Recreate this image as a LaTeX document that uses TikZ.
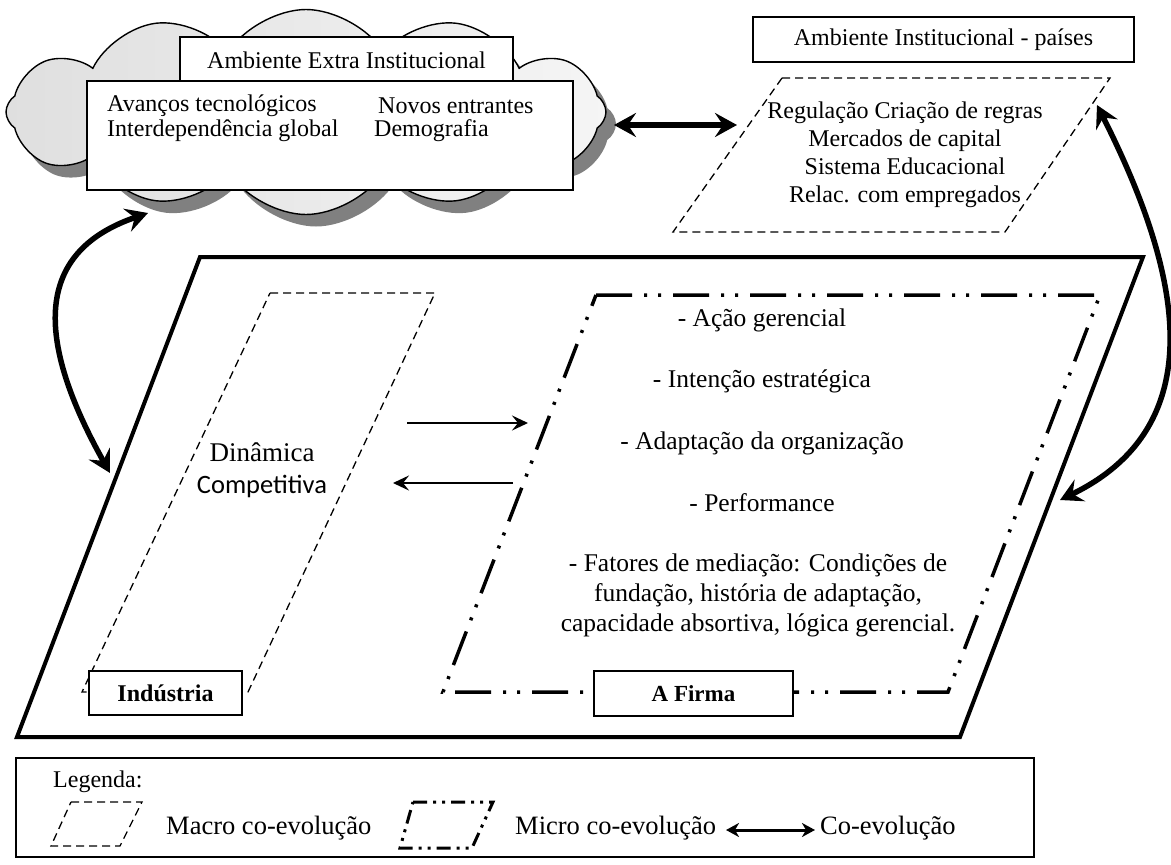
\documentclass[tikz,border=0pt]{standalone}
\usepackage{fontspec}
\setmainfont{Liberation Serif}
\newfontfamily\calfont{Carlito}
\usetikzlibrary{shapes.symbols,arrows.meta}
\begin{document}
\begin{tikzpicture}[x=1pt,y=-1pt,
  fs/.style={font=\fontsize{#1}{#1}\selectfont},
  box/.style={draw, line width=1.5pt, fill=white, inner sep=0pt},
  macro/.style={draw, line width=1.3pt, dash pattern=on 8pt off 5pt},
  micro/.style={draw, line width=3.5pt, dash pattern=on 36pt off 12pt on 3pt off 11pt on 3pt off 12pt},
  co/.style={line width=5.5pt, {Stealth[length=22pt,width=24pt,inset=8pt]}-{Stealth[length=22pt,width=24pt,inset=8pt]}},
  flow/.style={line width=2.5pt, -{Stealth[length=16pt,width=15pt,inset=6pt]}},
  cloudshape/.style={cloud, cloud puffs=12, cloud puff arc=115, aspect=2.8, minimum width=600pt, minimum height=205pt, inner sep=0pt}
]
\useasboundingbox (0,0) rectangle (1171,865);

% cloud with shadow
\node[cloudshape, fill=black!50] (cloudshadow) at (316,124) {};
\node[cloudshape, draw, line width=1.4pt, left color=gray!25, right color=gray!8] (cloud) at (306,112) {};

\node[box, minimum width=333pt, minimum height=50pt] (extra) at (346.5,62) {};
\node[fs=24] (extratitle) at (346.5,60) {Ambiente Extra Institucional};
\node[box, minimum width=486pt, minimum height=109pt] (items) at (330,135.5) {};
\node[fs=24, anchor=west, inner sep=0pt] (i1) at (107,106) {Avanços tecnológicos};
\node[fs=24, anchor=west, inner sep=0pt] (i2) at (107,131) {Interdependência global};
\node[fs=24, anchor=west, inner sep=0pt] (i3) at (378,106) {Novos entrantes};
\node[fs=24, anchor=west, inner sep=0pt] (i4) at (374,131) {Demografia};

% institutional
\node[box, minimum width=381pt, minimum height=45pt, fs=24] (instit) at (943.5,39.5) {Ambiente Institucional - países};
\draw[macro] (782,78) -- (1110,78) -- (1005,232) -- (673,232) -- cycle;
\node[align=center, font=\fontsize{24}{28}\selectfont] (instlist) at (905,155)
  {Regulação Criação de regras\\Mercados de capital\\Sistema Educacional\\Relac. com empregados};

\coordinate (coA) at (614,125);
\coordinate (coB) at (737,125);
\draw[co] (coA) -- (coB);

% main parallelogram
\draw[line width=4pt, line join=miter] (200,257) -- (1143,257) -- (960,737) -- (17,737) -- cycle;

% industry
\draw[macro] (270,293) -- (435,293) -- (248,692) -- (82,692) -- cycle;
\node[box, minimum width=153pt, minimum height=44pt, font=\fontsize{24}{28}\selectfont\bfseries] (ind) at (165.5,693) {Indústria};
\node[fs=27] (din) at (262,452) {Dinâmica};
\node[font=\fontsize{26.5}{30}\calfont] (comp) at (262,486) {Competitiva};

% firm
\draw[micro] (596,295) -- (1100,295) -- (948,692) -- (443,692) -- cycle;
\node[box, minimum width=199pt, minimum height=45pt, font=\fontsize{23}{27}\selectfont\bfseries] (firma) at (693.5,693.5) {A Firma};
\node[fs=25.5] (f1) at (762,320) {- Ação gerencial};
\node[fs=25.5] (f2) at (762,381) {- Intenção estratégica};
\node[fs=25.5] (f3) at (762,443) {- Adaptação da organização};
\node[fs=25.5] (f4) at (762,503) {- Performance};
\node[align=center, font=\fontsize{25.5}{30}\selectfont] (f5) at (758,595)
  {- Fatores de mediação: Condições de\\fundação, história de adaptação,\\capacidade absortiva, lógica gerencial.};

\coordinate (r1) at (407,423);
\coordinate (r2) at (528,423);
\coordinate (l1) at (513,483);
\coordinate (l2) at (393,483);
\draw[flow] (r1) -- (r2);
\draw[flow] (l1) -- (l2);

% curved co-evolution arrows
\coordinate (lowL) at (110,473);
\coordinate (upL) at (148,213);
\draw[co] (lowL) .. controls (30,330) and (40,250) .. (upL);
\coordinate (upR) at (1097,105);
\coordinate (lowR) at (1060,500);
\draw[co] (upR) .. controls (1170,250) and (1225,420) .. (lowR);

% legend
\node[draw, line width=2pt, minimum width=1018pt, minimum height=99pt, inner sep=0pt] (legend) at (525,807.5) {};
\node[fs=24, anchor=west, inner sep=0pt] (legtitle) at (53,782) {Legenda:};
\draw[macro] (71,802) -- (142,802) -- (120,846) -- (51,846) -- cycle;
\node[fs=26.5, anchor=west, inner sep=0pt] (macrotxt) at (166,828) {Macro co-evolução};
\draw[line width=3pt, dash pattern=on 14pt off 6pt on 3pt off 6pt on 3pt off 6pt] (413,802) -- (493,802) -- (472,848) -- (400,848) -- cycle;
\node[fs=26.5, anchor=west, inner sep=0pt] (microtxt) at (515,828) {Micro co-evolução};
\coordinate (la) at (726,830);
\coordinate (lb) at (815,830);
\draw[line width=3pt, {Stealth[length=13pt,width=14pt,inset=4pt]}-{Stealth[length=13pt,width=14pt,inset=4pt]}] (la) -- (lb);
\node[fs=26.5, anchor=west, inner sep=0pt] (cotxt) at (820,828) {Co-evolução};
\end{tikzpicture}
\end{document}
